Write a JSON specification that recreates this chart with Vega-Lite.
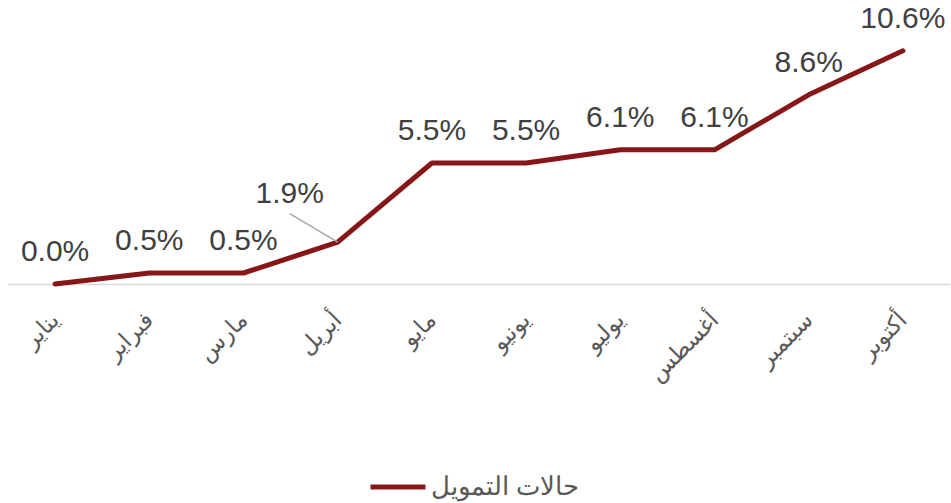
{
  "$schema": "https://vega.github.io/schema/vega-lite/v6.json",
  "width": 942,
  "height": 264,
  "autosize": {"type": "none"},
  "padding": {"left": 8, "top": 20, "right": 1, "bottom": 219},
  "background": "white",
  "config": {
    "view": {"stroke": null},
    "font": "Liberation Sans"
  },
  "data": {
    "values": [
      {"month": "يناير", "value": 0.0, "series": "حالات التمويل"},
      {"month": "فبراير", "value": 0.005, "series": "حالات التمويل"},
      {"month": "مارس", "value": 0.005, "series": "حالات التمويل"},
      {"month": "أبريل", "value": 0.019, "series": "حالات التمويل"},
      {"month": "مايو", "value": 0.055, "series": "حالات التمويل"},
      {"month": "يونيو", "value": 0.055, "series": "حالات التمويل"},
      {"month": "يوليو", "value": 0.061, "series": "حالات التمويل"},
      {"month": "أغسطس", "value": 0.061, "series": "حالات التمويل"},
      {"month": "سبتمبر", "value": 0.086, "series": "حالات التمويل"},
      {"month": "أكتوبر", "value": 0.106, "series": "حالات التمويل"}
    ]
  },
  "encoding": {
    "x": {
      "field": "month",
      "type": "ordinal",
      "sort": null,
      "scale": {"type": "point", "padding": 0.5},
      "axis": {
        "title": null,
        "labelAngle": -45,
        "labelAlign": "right",
        "labelBaseline": "middle",
        "labelFontSize": 23,
        "labelColor": "#595959",
        "labelFont": "DejaVu Sans",
        "labelPadding": 32,
        "ticks": false,
        "domainColor": "#d9d9d9",
        "domainWidth": 1.5,
        "grid": false
      }
    },
    "y": {
      "field": "value",
      "type": "quantitative",
      "scale": {"domain": [0, 0.12]},
      "axis": null
    }
  },
  "layer": [
    {
      "mark": {"type": "line", "strokeWidth": 5, "strokeCap": "round", "strokeJoin": "round"},
      "encoding": {
        "color": {
          "field": "series",
          "type": "nominal",
          "scale": {"range": ["#861618"]},
          "legend": {
            "title": null,
            "orient": "none",
            "legendX": 360,
            "legendY": 437,
            "padding": 0,
            "symbolType": "stroke",
            "symbolSize": 3025,
            "symbolStrokeWidth": 5,
            "labelFontSize": 26,
            "labelColor": "#595959",
            "labelFont": "Liberation Sans",
            "labelOffset": 3
          }
        }
      }
    },
    {
      "transform": [{"filter": "datum.month !== 'أبريل'"}],
      "mark": {"type": "text", "fontSize": 30, "color": "#404040", "baseline": "alphabetic", "dy": -23},
      "encoding": {
        "text": {"field": "value", "type": "quantitative", "format": ".1%"}
      }
    },
    {
      "transform": [{"filter": "datum.month === 'أبريل'"}],
      "mark": {"type": "text", "fontSize": 30, "color": "#404040", "baseline": "alphabetic", "dy": -39, "dx": -48},
      "encoding": {
        "text": {"field": "value", "type": "quantitative", "format": ".1%"}
      }
    },
    {
      "transform": [{"filter": "datum.month === 'أبريل'"}],
      "mark": {"type": "rule", "color": "#a6a6a6", "strokeWidth": 1.5, "x2Offset": -48},
      "encoding": {
        "x2": {"field": "month"},
        "y2": {"datum": 0.032}
      }
    }
  ]
}
